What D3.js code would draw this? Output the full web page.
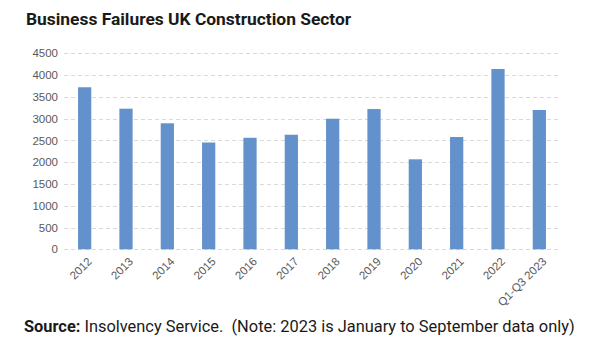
<!DOCTYPE html>
<html><head><meta charset="utf-8">
<script src="https://cdn.jsdelivr.net/npm/d3@7"></script>
<style>
body{margin:0;background:#fff;}
svg{display:block;}
</style></head>
<body>
<script>
const categories = ["2012","2013","2014","2015","2016","2017","2018","2019","2020","2021","2022","Q1-Q3 2023"];
const failures = [3720, 3228, 2893, 2452, 2560, 2630, 2998, 3220, 2066, 2578, 4140, 3198];
const yTicks = [0,500,1000,1500,2000,2500,3000,3500,4000,4500];
const titleText = "Business Failures UK Construction Sector";
const sourceBold = "Source:";
const sourceRest = " Insolvency Service.  (Note: 2023 is January to September data only)";

const W = 611, H = 362;
const svg = d3.select("body").append("svg").attr("width", W).attr("height", H);

const x = d3.scaleBand().domain(categories).range([64, 560]).paddingInner(0.68).paddingOuter(0.34);
const y = d3.scaleLinear().domain([0, 4500]).range([249.3, 53.3]);

// gridlines
svg.append("g").selectAll("line").data(yTicks).join("line")
  .attr("x1", 64).attr("x2", 560)
  .attr("y1", d => Math.round(y(d)) + 0.5).attr("y2", d => Math.round(y(d)) + 0.5)
  .attr("stroke", "#d9d9d9").attr("stroke-width", 1).attr("stroke-dasharray", "4,3");

// y axis labels
const yAxis = d3.axisLeft(y).tickValues(yTicks).tickSize(0).tickPadding(6).tickFormat(d3.format("d"));
const gy = svg.append("g").attr("transform", "translate(64,0)").call(yAxis);
gy.select(".domain").remove();
gy.selectAll("text").attr("font-family", "Liberation Sans, Arial, sans-serif").attr("font-size", 11.5).attr("fill", "#595959");

// bars
svg.append("g").selectAll("rect").data(failures).join("rect")
  .attr("x", (d, i) => x(categories[i]))
  .attr("width", x.bandwidth())
  .attr("y", d => y(d))
  .attr("height", d => y(0) - y(d))
  .attr("fill", "#6291cb");

// x axis
const xAxis = d3.axisBottom(x).tickSize(0).tickPadding(0);
const gx = svg.append("g").attr("transform", "translate(0,249.3)").call(xAxis);
gx.select(".domain").remove();
gx.selectAll("text")
  .attr("font-family", "Liberation Sans, Arial, sans-serif").attr("font-size", 11.5).attr("fill", "#595959")
  .attr("text-anchor", "end").attr("dy", "0.35em")
  .attr("transform", "translate(5,10) rotate(-45)");

// title
svg.append("text").attr("x", 26).attr("y", 25)
  .attr("font-family", "Roboto, Arial, sans-serif").attr("font-weight", "bold").attr("font-size", 17.4)
  .attr("fill", "#1a1a1a").text(titleText);

// source
const src = svg.append("text").attr("x", 24).attr("y", 332)
  .attr("font-family", "Roboto, Arial, sans-serif").attr("font-size", 16.4).attr("fill", "#1a1a1a")
  .attr("xml:space", "preserve").style("white-space", "pre");
src.append("tspan").attr("font-weight", "bold").text(sourceBold);
src.append("tspan").text(sourceRest);
</script>
</body></html>
